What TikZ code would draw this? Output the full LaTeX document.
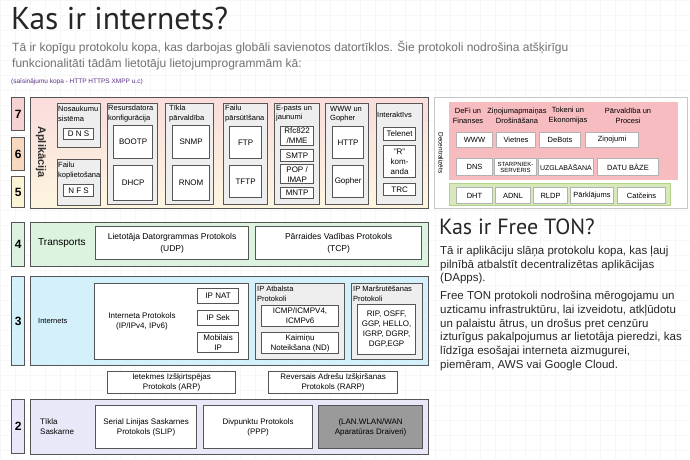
\documentclass[tikz,border=0pt]{standalone}
\usepackage{fontspec}
\setmainfont{Liberation Sans}
\newfontfamily\titlefont{PT Sans}
\usetikzlibrary{positioning}
\definecolor{edge}{HTML}{555555}
\definecolor{groupgray}{HTML}{EEEEEE}
\definecolor{introgray}{HTML}{707070}
\definecolor{abbrevpurple}{HTML}{5A2D82}
\definecolor{lseven}{HTML}{F6D3D3}
\definecolor{lsix}{HTML}{F7D9BF}
\definecolor{lfive}{HTML}{FBF3D5}
\definecolor{apptop}{HTML}{FADCDC}
\definecolor{appbot}{HTML}{FDF6DF}
\definecolor{transgreen}{HTML}{DCF3E0}
\definecolor{inetblue}{HTML}{D4F0FA}
\definecolor{linklav}{HTML}{E8E8F8}
\definecolor{decpink}{HTML}{F6BCC0}
\definecolor{decgreen}{HTML}{D7E9B9}
\definecolor{decgreenedge}{HTML}{B5D08A}
\definecolor{drvgray}{HTML}{9A9A9A}
\tikzset{
  numbox/.style={draw=edge, line width=1.4pt, inner sep=0pt,
        font=\bfseries\fontsize{12}{12}\selectfont},
  layer/.style={draw=edge, line width=1.4pt, inner sep=0pt},
  group/.style={draw=edge, line width=1.2pt, fill=groupgray, inner sep=0pt},
  proto/.style={draw=edge, line width=1.2pt, fill=white, align=center,
        inner sep=0pt, font=\fontsize{8}{10}\selectfont},
  dproto/.style={draw=gray!60, line width=1pt, fill=white, align=center,
        inner sep=0pt, font=\fontsize{7.5}{7}\selectfont},
  grouplabel/.style={anchor=north west, align=left, inner sep=0pt,
        font=\fontsize{7.5}{9.5}\selectfont},
  layerlabel/.style={anchor=west, align=left, inner sep=0pt,
        font=\fontsize{8}{10}\selectfont}
}
% box from (x1,y1) to (x2,y2), y grows downwards
\newcommand{\boxat}[7]{%
  \node[#1, anchor=north west, minimum width={(#5-#3)*1pt},
        minimum height={(#6-#4)*1pt}] (#2) at (#3,#4) {#7};}

\begin{document}
\begin{tikzpicture}[x=1pt, y=-1pt]
        \useasboundingbox (0,0) rectangle (690,459);
        \foreach \gx in {0,15,...,690}
            \draw[black!3] (\gx,0) -- (\gx,459);
        \foreach \gy in {0,15,...,459}
            \draw[black!3] (0,\gy) -- (690,\gy);

        % heading
        \node[anchor=west, inner sep=0pt, text=black!85,
            font=\titlefont\fontsize{31.5}{31.5}\selectfont] (title) at (11,18)
            {Kas ir internets?};
        \node[anchor=north west, align=left, inner sep=0pt, text=introgray,
            font=\fontsize{12}{16}\selectfont] (intro) at (12,41)
            {Tā ir kopīgu protokolu kopa, kas darbojas globāli savienotos datortīklos. Šie protokoli nodrošina atšķirīgu\\
             funkcionalitāti tādām lietotāju lietojumprogrammām kā:};
        \node[anchor=west, inner sep=0pt, text=abbrevpurple,
            font=\fontsize{6.5}{7}\selectfont] (abbrev) at (11,82)
            {(saīsinājumu kopa - HTTP HTTPS XMPP u.c)};

        % layer numbers
        \boxat{numbox, fill=lseven}{n7}{11}{97}{24}{130}{7}
        \boxat{numbox, fill=lsix}{n6}{11}{137}{24}{170}{6}
        \boxat{numbox, fill=lfive}{n5}{11}{176}{24}{207}{5}
        \boxat{numbox, fill=transgreen}{n4}{11}{222}{24}{266}{4}
        \boxat{numbox, fill=inetblue}{n3}{11}{276}{24}{365}{3}
        \boxat{numbox, fill=linklav}{n2}{11}{399}{24}{453}{2}

        % application layer
        \boxat{layer, top color=apptop, bottom color=appbot}{app}{30}{97}{428}{208}{}
        \node[rotate=-90, inner sep=0pt, font=\bfseries\fontsize{11}{11}\selectfont,
            text=black!80] (applab) at (41,152) {Aplikācija};

        \boxat{group}{names}{57}{103}{100}{147}{}
        \node[grouplabel] (nameslab) at ([xshift=1pt, yshift=-3pt]names.north west)
            {Nosaukumu\\sistēma};
        \boxat{proto}{dns}{63}{128}{93}{139}{D N S}
        \boxat{group}{share}{57}{159}{100}{205}{}
        \node[grouplabel] (sharelab) at ([xshift=1pt, yshift=-3pt]share.north west)
            {Failu\\koplietošana};
        \boxat{proto}{nfs}{63}{184}{93}{196}{N F S}

        \boxat{group}{hostcfg}{107}{103}{157}{204}{}
        \node[grouplabel] (hostcfglab) at ([xshift=1pt, yshift=-2pt]hostcfg.north west)
            {Resursdatora\\konfigurācija};
        \boxat{proto}{bootp}{113}{125}{152}{158}{BOOTP}
        \boxat{proto}{dhcp}{113}{165}{152}{200}{DHCP}

        \boxat{group}{netmgmt}{165}{103}{213}{204}{}
        \node[grouplabel] (netmgmtlab) at ([xshift=4pt, yshift=-2pt]netmgmt.north west)
            {Tīkla\\pārvaldība};
        \boxat{proto}{snmp}{172}{125}{209}{158}{SNMP}
        \boxat{proto}{rnom}{172}{165}{209}{200}{RNOM}

        \boxat{group}{transfer}{223}{103}{267}{204}{}
        \node[grouplabel] (transferlab) at ([xshift=2pt, yshift=-2pt]transfer.north west)
            {Failu\\pārsūtīšana};
        \boxat{proto}{ftp}{229}{126}{261}{158}{FTP}
        \boxat{proto}{tftp}{229}{165}{261}{197}{TFTP}

        \boxat{group}{mail}{274}{103}{319}{204}{}
        \node[grouplabel] (maillab) at ([xshift=2pt, yshift=-2pt]mail.north west)
            {E-pasts un\\jaunumi};
        \boxat{proto}{rfc}{280}{126}{313}{145}{Rfc822\\/MME}
        \boxat{proto}{smtp}{280}{149}{313}{161}{SMTP}
        \boxat{proto}{pop}{280}{164}{313}{183}{POP /\\IMAP}
        \boxat{proto}{mntp}{280}{187}{313}{198}{MNTP}

        \boxat{group}{web}{325}{103}{368}{204}{}
        \node[grouplabel] (weblab) at ([xshift=5pt, yshift=-3pt]web.north west)
            {WWW un\\Gopher};
        \boxat{proto}{http}{332}{126}{363}{158}{HTTP}
        \boxat{proto}{gopher}{332}{165}{363}{197}{Gopher}

        \boxat{group}{inter}{376}{103}{422}{204}{}
        \node[grouplabel] (interlab) at ([xshift=1pt, yshift=-9pt]inter.north west)
            {Interaktīvs};
        \boxat{proto}{telenet}{383}{127}{415}{140}{Telenet}
        \boxat{proto}{rcmd}{383}{145}{415}{177}{"R"\\kom-\\anda}
        \boxat{proto}{trc}{383}{183}{415}{195}{TRC}

        % decentralised stack
        \boxat{draw=gray!45, line width=1pt, fill=white, inner sep=0pt}{dec}{434}{97}{687}{208}{}
        \node[rotate=-90, inner sep=0pt, font=\fontsize{6.5}{7}\selectfont] (declab)
            at (441,153) {Decentralizēts};
        \boxat{fill=decpink, inner sep=0pt}{decapps}{449}{102}{678}{180}{}
        \node[align=center, inner sep=0pt, font=\fontsize{7.5}{10}\selectfont] (defi)
            at (468,116) {DeFi un\\Finanses};
        \node[align=center, inner sep=0pt, font=\fontsize{7.5}{10}\selectfont] (msg)
            at (517,116) {Ziņojumapmaiņas\\Drošināšana};
        \node[align=center, inner sep=0pt, font=\fontsize{7.5}{10}\selectfont] (tok)
            at (568,116) {Tokeni un\\Ekonomijas};
        \node[align=center, inner sep=0pt, font=\fontsize{7.5}{10}\selectfont] (gov)
            at (628,116) {Pārvaldība un\\Procesi};
        \boxat{dproto}{dwww}{456}{132}{492}{147}{WWW}
        \boxat{dproto}{dsites}{496}{132}{535}{147}{Vietnes}
        \boxat{dproto}{dbots}{539}{132}{580}{147}{DeBots}
        \boxat{dproto}{dmsgs}{585}{132}{638}{147}{Ziņojumi}
        \boxat{dproto}{ddns}{456}{158}{492}{175}{DNS}
        \boxat{dproto, font=\fontsize{6}{6}\selectfont}{dproxy}{494}{158}{536}{175}{STARPNIEK-\\SERVERIS}
        \boxat{dproto, font=\fontsize{7}{7}\selectfont}{dstore}{538}{158}{593}{175}{UZGLABĀŠANA}
        \boxat{dproto}{ddb}{597}{158}{658}{175}{DATU BĀZE}
        \boxat{draw=decgreenedge, line width=1pt, fill=decgreen, inner sep=0pt}{decnet}{449}{183}{670}{205}{}
        \boxat{dproto}{ddht}{456}{187}{492}{203}{DHT}
        \boxat{dproto}{dadnl}{495}{187}{530}{203}{ADNL}
        \boxat{dproto}{drldp}{533}{187}{567}{203}{RLDP}
        \boxat{dproto}{doverlay}{570}{187}{613}{203}{Pārklājums}
        \boxat{dproto}{dchain}{617}{187}{665}{203}{Catčeins}

        % transport layer
        \boxat{layer, fill=transgreen}{trans}{30}{222}{428}{266}{}
        \node[layerlabel, font=\fontsize{10}{10}\selectfont] (translab) at (38,243) {Transports};
        \boxat{proto, font=\fontsize{8.5}{12}\selectfont}{udp}{95}{226}{248}{259}{Lietotāja Datorgrammas Protokols\\(UDP)}
        \boxat{proto, font=\fontsize{8.5}{12}\selectfont}{tcp}{255}{226}{421}{259}{Pārraides Vadības Protokols\\(TCP)}

        % internet layer
        \boxat{layer, fill=inetblue}{inet}{30}{276}{428}{365}{}
        \node[layerlabel, font=\fontsize{7.5}{9}\selectfont] (inetlab) at (38,321) {Internets};
        \boxat{proto}{ip}{94}{283}{248}{359}{}
        \node[align=center, inner sep=0pt, font=\fontsize{8}{10}\selectfont] (iplab)
            at (142,321) {Interneta Protokols\\(IP/IPv4, IPv6)};
        \boxat{proto}{ipnat}{197}{288}{238}{303}{IP NAT}
        \boxat{proto}{ipsec}{197}{310}{238}{325}{IP Sek}
        \boxat{proto}{mobip}{197}{332}{238}{352}{Mobilais\\IP}
        \boxat{group}{ipsup}{255}{283}{344}{359}{}
        \node[grouplabel] (ipsuplab) at ([xshift=2pt, yshift=-3pt]ipsup.north west)
            {IP Atbalsta\\Protokoli};
        \boxat{proto}{icmp}{261}{305}{338}{326}{ICMP/ICMPV4,\\ICMPv6}
        \boxat{proto}{nd}{261}{332}{338}{353}{Kaimiņu\\Noteikšana (ND)}
        \boxat{group}{iprt}{351}{283}{422}{359}{}
        \node[grouplabel] (iprtlab) at ([xshift=2pt, yshift=-3pt]iprt.north west)
            {IP Maršrutēšanas\\Protokoli};
        \boxat{proto}{rtp}{357}{304}{415}{354}
            {RIP, OSFF,\\GGP, HELLO,\\IGRP, DGRP,\\DGP,EGP}

        \boxat{proto}{arp}{107}{371}{235}{393}{Ietekmes Izšķirtspējas\\Protokols (ARP)}
        \boxat{proto}{rarp}{268}{371}{397}{393}{Reversais Adrešu Izšķiršanas\\Protokols (RARP)}

        % link layer
        \boxat{layer, fill=linklav}{link}{30}{399}{428}{454}{}
        \node[layerlabel] (linklab) at (40,427) {Tīkla\\Saskarne};
        \boxat{proto}{slip}{95}{405}{196}{448}{Serial Linijas Saskarnes\\Protokols (SLIP)}
        \boxat{proto}{ppp}{203}{405}{312}{448}{Divpunktu Protokols\\(PPP)}
        \boxat{proto, fill=drvgray}{drv}{318}{405}{422}{448}{(LAN.WLAN/WAN\\Aparatūras Draiveri)}

        % Free TON text
        \node[anchor=west, inner sep=0pt, text=black!85,
            font=\titlefont\fontsize{22}{22}\selectfont] (tontitle) at (439,227)
            {Kas ir Free TON?};
        \node[anchor=north west, align=left, inner sep=0pt, text=black!85,
            font=\fontsize{11.5}{13.6}\selectfont] (tonintro) at (440,246)
            {Tā ir aplikāciju slāņa protokolu kopa, kas ļauj\\
             pilnībā atbalstīt decentralizētas aplikācijas\\
             (DApps).};
        \node[anchor=north west, align=left, inner sep=0pt, text=black!85,
            font=\fontsize{11.5}{13.8}\selectfont] (tonmore) at (440,291)
            {Free TON protokoli nodrošina mērogojamu un\\
             uzticamu infrastruktūru, lai izveidotu, atkļūdotu\\
             un palaistu ātrus, un drošus pret cenzūru\\
             izturīgus pakalpojumus ar lietotāja pieredzi, kas\\
             līdzīga esošajai interneta aizmugurei,\\
             piemēram, AWS vai Google Cloud.};
\end{tikzpicture}
\end{document}
